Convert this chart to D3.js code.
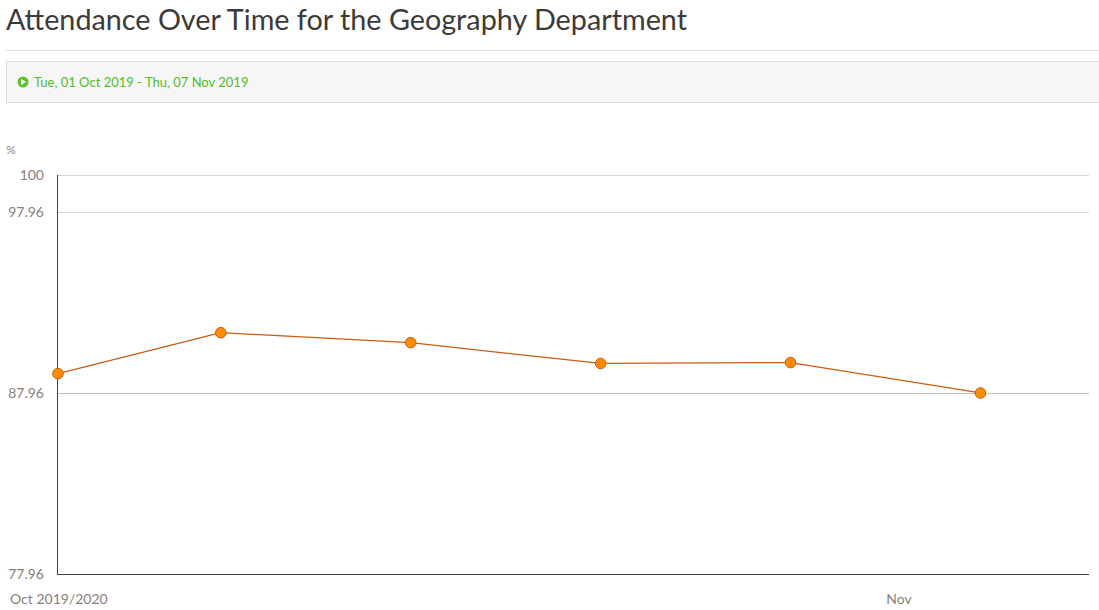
<!DOCTYPE html>
<html><head><meta charset="utf-8">
<script src="https://cdn.jsdelivr.net/npm/d3@7"></script>
<style>
body{margin:0;background:#fff;}
svg{display:block;font-family:Lato,"Open Sans",sans-serif;}
</style></head>
<body><svg id="c" width="1099" height="610"></svg>
<script>
const title = "Attendance Over Time for the Geography Department";
const rangeLabel = "Tue, 01 Oct 2019 - Thu, 07 Nov 2019";
const dates = ["2019-10-01","2019-10-07","2019-10-14","2019-10-21","2019-10-28","2019-11-04"];
const values = [89.03, 91.29, 90.74, 89.59, 89.64, 87.96];
const yTicks = [77.96, 87.96, 97.96, 100];
const xDomain = ["2019-10-01","2019-11-08"];
const xTicks = [{d:"2019-10-01",label:"Oct 2019/2020"},{d:"2019-11-01",label:"Nov"}];

const svg = d3.select("#c");
const parse = d3.utcParse("%Y-%m-%d");
const textCol = "#8c7f77";

svg.append("text").attr("x",6).attr("y",30).attr("font-size",28).attr("fill","#3d3a3a")
  .attr("font-weight",400).attr("textLength",681).attr("lengthAdjust","spacingAndGlyphs").text(title);
svg.append("line").attr("x1",6).attr("x2",1099).attr("y1",50.5).attr("y2",50.5).attr("stroke","#ddd");
svg.append("rect").attr("x",6.5).attr("y",61.5).attr("width",1100).attr("height",41).attr("fill","#f6f6f6").attr("stroke","#ddd");
svg.append("circle").attr("cx",23).attr("cy",82).attr("r",5.5).attr("fill","#5fc032");
svg.append("path").attr("d","M21,79 L26,82 L21,85 Z").attr("fill","#fff");
svg.append("text").attr("x",34).attr("y",87).attr("font-size",13).attr("fill","#4fbf26").text(rangeLabel);

const x = d3.scaleUtc().domain(xDomain.map(parse)).range([58,1089]);
const y = d3.scaleLinear().domain([77.96,100]).range([574,175]);

svg.append("text").attr("x",6).attr("y",154).attr("font-size",12).attr("fill",textCol).text("%");

// gridlines
svg.append("g").selectAll("line").data(yTicks.filter(t=>t>77.96)).join("line")
  .attr("x1",58).attr("x2",1089).attr("y1",d=>Math.round(y(d))+0.5).attr("y2",d=>Math.round(y(d))+0.5)
  .attr("stroke",d=>d===87.96?"#c4bcb6":"#d9d6d2").attr("stroke-width",1);

// y labels
svg.append("g").selectAll("text").data(yTicks).join("text")
  .attr("x",44).attr("y",d=>y(d)+5).attr("text-anchor","end").attr("font-size",14).attr("fill",textCol)
  .text(d=>d3.format("~f")(d));

// axes lines
svg.append("line").attr("x1",57.5).attr("x2",57.5).attr("y1",175).attr("y2",575).attr("stroke","#4a3f3a");
svg.append("line").attr("x1",57).attr("x2",1089).attr("y1",574.5).attr("y2",574.5).attr("stroke","#4a3f3a");

// x labels
svg.append("g").selectAll("text").data(xTicks).join("text")
  .attr("x",(d,i)=> i===0 ? 10 : x(parse(d.d)))
  .attr("text-anchor",(d,i)=> i===0?"start":"middle")
  .attr("y",604).attr("font-size",14).attr("fill",textCol).text(d=>d.label);

const pts = dates.map((d,i)=>({d:parse(d),v:values[i]}));
svg.append("path").datum(pts).attr("fill","none").attr("stroke","#cc5a12").attr("stroke-width",1.2)
  .attr("d",d3.line().x(d=>x(d.d)).y(d=>y(d.v)));
svg.append("g").selectAll("circle").data(pts).join("circle")
  .attr("cx",d=>x(d.d)).attr("cy",d=>y(d.v)).attr("r",5.3)
  .attr("fill","#ff8c00").attr("stroke","#c95a10").attr("stroke-width",1);
</script></body></html>
